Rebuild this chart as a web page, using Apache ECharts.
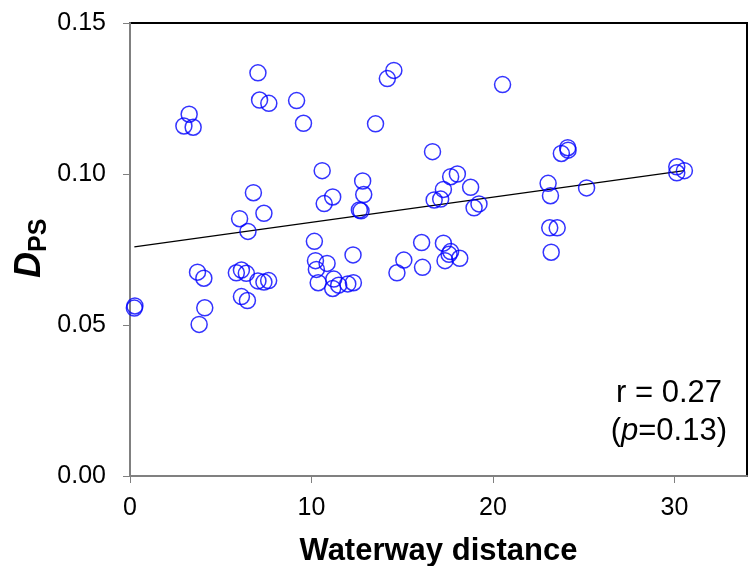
<!DOCTYPE html>
<html><head><meta charset="utf-8">
<script src="https://cdn.jsdelivr.net/npm/echarts@6/dist/echarts.min.js"></script>
<style>html,body{margin:0;padding:0;background:#fff}#c{width:749px;height:566px}</style>
</head><body><div id="c"></div>
<script>
// Waterway distance (x) values
var distX = [0.27,0.24,2.97,3.26,3.48,3.72,3.81,4.07,4.12,5.86,6.04,6.14,6.14,6.41,6.47,6.50,6.80,7.05,7.05,7.14,
  7.38,7.38,7.64,7.65,9.18,9.56,10.16,10.22,10.27,10.37,10.59,10.70,10.86,11.17,11.23,11.17,11.50,12.00,12.31,12.29,
  12.64,12.73,12.82,12.88,13.53,14.18,14.54,14.71,15.09,16.07,16.12,16.67,16.76,17.12,17.27,17.27,17.67,18.04,17.67,17.58,
  18.17,17.36,18.77,18.96,19.23,20.53,23.04,23.17,23.13,23.54,23.21,23.77,24.12,24.14,25.16,30.13,30.55,30.13];
// D_PS (y) values
var dpsY = [0.0563,0.0556,0.1159,0.1198,0.1155,0.0675,0.0502,0.0655,0.0557,0.0673,0.0852,0.0682,0.0594,0.0671,0.0581,0.0810,0.0938,0.1335,0.0646,0.1245,
  0.0870,0.0642,0.0647,0.1234,0.1243,0.1168,0.0777,0.0713,0.0684,0.0640,0.1011,0.0902,0.0704,0.0924,0.0652,0.0621,0.0632,0.0636,0.0640,0.0732,
  0.0881,0.0878,0.0977,0.0932,0.1166,0.1316,0.1343,0.0673,0.0715,0.0773,0.0691,0.1074,0.0914,0.0917,0.0949,0.0771,0.0991,0.1000,0.0743,0.0734,
  0.0721,0.0713,0.0956,0.0888,0.0901,0.1296,0.0969,0.0928,0.0822,0.0822,0.0741,0.1068,0.1087,0.1079,0.0954,0.1024,0.1011,0.1004];
// Regression line end points
var trendX = [0.24, 30.55];
var trendY = [0.0759, 0.1011];
// Tick values
var xTicks = [0, 10, 20, 30];
var yTicks = [0, 0.05, 0.10, 0.15];
var statR = 'r = 0.27';
var statP = '0.13';

var FONT = '"Liberation Sans", Arial, sans-serif';
var chart = echarts.init(document.getElementById('c'), null, {renderer: 'canvas'});
var pts = distX.map(function (x, i) { return [x, dpsY[i]]; });
var line = trendX.map(function (x, i) { return [x, trendY[i]]; });

chart.setOption({
  animation: false,
  backgroundColor: '#fff',
  grid: {left: 130, right: 2, top: 23, bottom: 90, containLabel: false, outerBoundsMode: 'none',
    show: true, borderColor: '#000', borderWidth: 2, backgroundColor: 'transparent'},
  xAxis: {
    type: 'value', min: 0, max: 34, interval: 10,
    name: 'Waterway distance', nameLocation: 'middle', nameGap: 60,
    nameTextStyle: {fontFamily: FONT, fontWeight: 'bold', fontSize: 31, color: '#000'},
    axisLine: {show: true, onZero: false, lineStyle: {color: '#808080', width: 2}},
    axisTick: {show: true, length: 7, lineStyle: {color: '#808080', width: 1}, customValues: xTicks},
    axisLabel: {fontFamily: FONT, fontSize: 25, color: '#000', margin: 20, customValues: xTicks,
      formatter: function (v) { return String(v); }},
    splitLine: {show: false}
  },
  yAxis: {
    type: 'value', min: 0, max: 0.15, interval: 0.05,
    axisLine: {show: true, onZero: false, lineStyle: {color: '#808080', width: 2}},
    axisTick: {show: true, length: 7, lineStyle: {color: '#808080', width: 1}, customValues: yTicks},
    axisLabel: {fontFamily: FONT, fontSize: 25, color: '#000', margin: 24, customValues: yTicks,
      formatter: function (v) { return v.toFixed(2); }},
    splitLine: {show: false}
  },
  graphic: [
    {type: 'group', x: 30, y: 254, rotation: Math.PI / 2,
      children: [
        {type: 'text', x: 2, y: 0, style: {text: 'D', fontFamily: FONT, fontWeight: 'bold', fontStyle: 'italic', fontSize: 36, fill: '#000', align: 'right', verticalAlign: 'middle'}},
        {type: 'text', x: 2, y: 9, style: {text: 'PS', fontFamily: FONT, fontWeight: 'bold', fontSize: 25, fill: '#000', align: 'left', verticalAlign: 'middle'}}
      ]},
    {type: 'text', right: 27, top: 378, style: {text: statR, fontFamily: FONT, fontSize: 31, fill: '#000'}},
    {type: 'text', right: 22, top: 416, style: {text: '({i|p}=' + statP + ')', fontFamily: FONT, fontSize: 31, fill: '#000',
      rich: {i: {fontStyle: 'italic', fontFamily: FONT, fontSize: 31}}}}
  ],
  series: [
    {type: 'scatter', data: pts, symbol: 'circle', symbolSize: 16,
      itemStyle: {color: 'rgba(0,0,0,0)', borderColor: '#0000ff', borderWidth: 1.5}, z: 3},
    {type: 'line', data: line, symbol: 'none', lineStyle: {color: '#000', width: 1.3}, z: 2}
  ]
});
</script></body></html>
